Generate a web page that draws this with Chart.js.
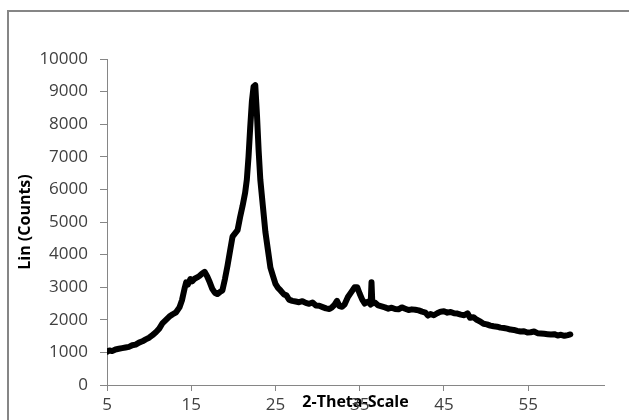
<!DOCTYPE html>
<html>
<head>
<meta charset="utf-8">
<script src="https://cdn.jsdelivr.net/npm/chart.js@4.4.1/dist/chart.umd.min.js"></script>
<style>
  body { margin: 0; background: #fff; }
  canvas { display: block; }
</style>
</head>
<body>
<canvas id="xrdChart" width="629" height="420"></canvas>
<script>
// 2-theta positions (deg) and counts
const twoTheta = [
  5.0, 5.3, 5.6, 6.0, 6.4, 6.8, 7.2, 7.6, 8.0, 8.4, 8.8, 9.2, 9.6, 10.0, 10.4, 10.8,
  11.2, 11.6, 12.0, 12.4, 12.8, 13.2, 13.6, 13.9, 14.2, 14.4, 14.6, 14.9, 15.1, 15.4,
  15.7, 16.0, 16.3, 16.6, 16.9, 17.2, 17.5, 17.8, 18.1, 18.4, 18.7, 19.0, 19.3, 19.6,
  19.9, 20.2, 20.5, 20.8, 21.1, 21.4, 21.6, 21.8, 22.0, 22.2, 22.4, 22.6, 22.8, 23.0,
  23.2, 23.5, 23.8, 24.1, 24.4, 24.7, 25.0, 25.3, 25.6, 26.0, 26.3, 26.6, 27.0, 27.4,
  27.8, 28.2, 28.6, 29.0, 29.4, 29.8, 30.2, 30.6, 31.0, 31.4, 31.7, 32.0, 32.3, 32.6,
  32.9, 33.2, 33.6, 34.0, 34.4, 34.7, 35.0, 35.3, 35.6, 36.0, 36.3, 36.4, 36.5, 36.8,
  37.2, 37.6, 38.0, 38.4, 38.8, 39.2, 39.6, 40.0, 40.4, 40.8, 41.2, 41.6, 42.0, 42.4,
  42.8, 43.1, 43.4, 43.8, 44.2, 44.6, 45.0, 45.4, 45.8, 46.2, 46.6, 47.0, 47.4, 47.8,
  48.1, 48.5, 48.9, 49.3, 49.7, 50.1, 50.5, 50.9, 51.3, 51.7, 52.1, 52.5, 52.9, 53.3,
  53.7, 54.1, 54.5, 54.9, 55.3, 55.7, 56.1, 56.5, 56.9, 57.3, 57.7, 58.1, 58.5, 58.9,
  59.3, 59.7, 60.0
];
const counts = [
  1020, 1060, 1040, 1090, 1110, 1130, 1150, 1170, 1220, 1240, 1300, 1340, 1400, 1450, 1530, 1620,
  1730, 1900, 2000, 2100, 2170, 2230, 2380, 2600, 2950, 3150, 3080, 3250, 3180, 3260,
  3300, 3350, 3420, 3470, 3330, 3150, 2950, 2830, 2790, 2850, 2900, 3250, 3650, 4100,
  4550, 4650, 4750, 5150, 5500, 5900, 6300, 7000, 7900, 8700, 9150, 9200, 8300, 7200,
  6300, 5500, 4700, 4150, 3600, 3350, 3100, 2980, 2900, 2780, 2750, 2620, 2580, 2560,
  2540, 2570, 2520, 2490, 2530, 2440, 2430, 2390, 2350, 2330, 2380, 2460, 2580, 2420,
  2400, 2470, 2700, 2850, 3000, 3000, 2800, 2620, 2500, 2560, 2470, 3150, 2500, 2530,
  2440, 2410, 2380, 2340, 2370, 2330, 2320, 2380, 2340, 2300, 2320, 2310, 2290, 2250,
  2220, 2130, 2180, 2140, 2200, 2250, 2260, 2220, 2240, 2200, 2190, 2160, 2140, 2200,
  2060, 2080, 2000, 1950, 1880, 1860, 1820, 1800, 1790, 1760, 1750, 1730, 1700, 1690,
  1660, 1640, 1650, 1610, 1620, 1640, 1590, 1580, 1570, 1560, 1550, 1560, 1520, 1540,
  1510, 1530, 1550
];
const xTicks = [5, 15, 25, 35, 45, 55];
const yTicks = [0, 1000, 2000, 3000, 4000, 5000, 6000, 7000, 8000, 9000, 10000];

const tickFont = { family: 'Open Sans', size: 17 };
const titleFont = { family: 'Open Sans', size: 16, weight: 'bold' };

// gray frame around the whole chart (runs off the right/bottom edge)
const outerFrame = {
  id: 'outerFrame',
  beforeDraw(chart) {
    const ctx = chart.ctx;
    ctx.save();
    ctx.strokeStyle = '#868686';
    ctx.lineWidth = 2;
    ctx.strokeRect(8, 11, 700, 500);
    ctx.restore();
  }
};

new Chart(document.getElementById('xrdChart'), {
  type: 'line',
  data: {
    datasets: [{
      data: twoTheta.map((t, i) => ({ x: t, y: counts[i] })),
      borderColor: '#000',
      borderWidth: 6,
      pointRadius: 0,
      tension: 0,
      borderJoinStyle: 'round',
      borderCapStyle: 'round',
    }]
  },
  options: {
    responsive: false,
    animation: false,
    layout: {
      padding: { left: 0, top: 59, right: 25, bottom: 0 }
    },
    scales: {
      x: {
        type: 'linear',
        min: 5,
        max: 64,
        afterFit: (scale) => { scale.height = 35; },
        afterBuildTicks: (scale) => { scale.ticks = xTicks.map(v => ({ value: v })); },
        grid: {
          drawOnChartArea: false,
          color: '#868686',
          tickLength: 6,
        },
        border: { color: '#868686', width: 1 },
        ticks: {
          color: '#404040',
          font: tickFont,
          padding: 4,
          maxRotation: 0,
          autoSkip: false,
        },
        title: {
          display: true,
          text: '2-Theta-Scale',
          color: '#000',
          font: titleFont,
          padding: { top: 0, bottom: 8 },
        }
      },
      y: {
        min: 0,
        max: 10000,
        afterFit: (scale) => { scale.width = 107; },
        afterBuildTicks: (scale) => { scale.ticks = yTicks.map(v => ({ value: v })); },
        grid: {
          drawOnChartArea: false,
          color: '#868686',
          tickLength: 7,
        },
        border: { color: '#868686', width: 1 },
        ticks: {
          color: '#404040',
          font: tickFont,
          padding: 12,
          callback: (value) => String(value),
        },
        title: {
          display: true,
          text: 'Lin (Counts)',
          color: '#000',
          font: titleFont,
          padding: { top: 16, bottom: 0 },
        }
      }
    },
    plugins: {
      legend: { display: false },
      tooltip: { enabled: false },
    }
  },
  plugins: [outerFrame]
});
</script>
</body>
</html>
